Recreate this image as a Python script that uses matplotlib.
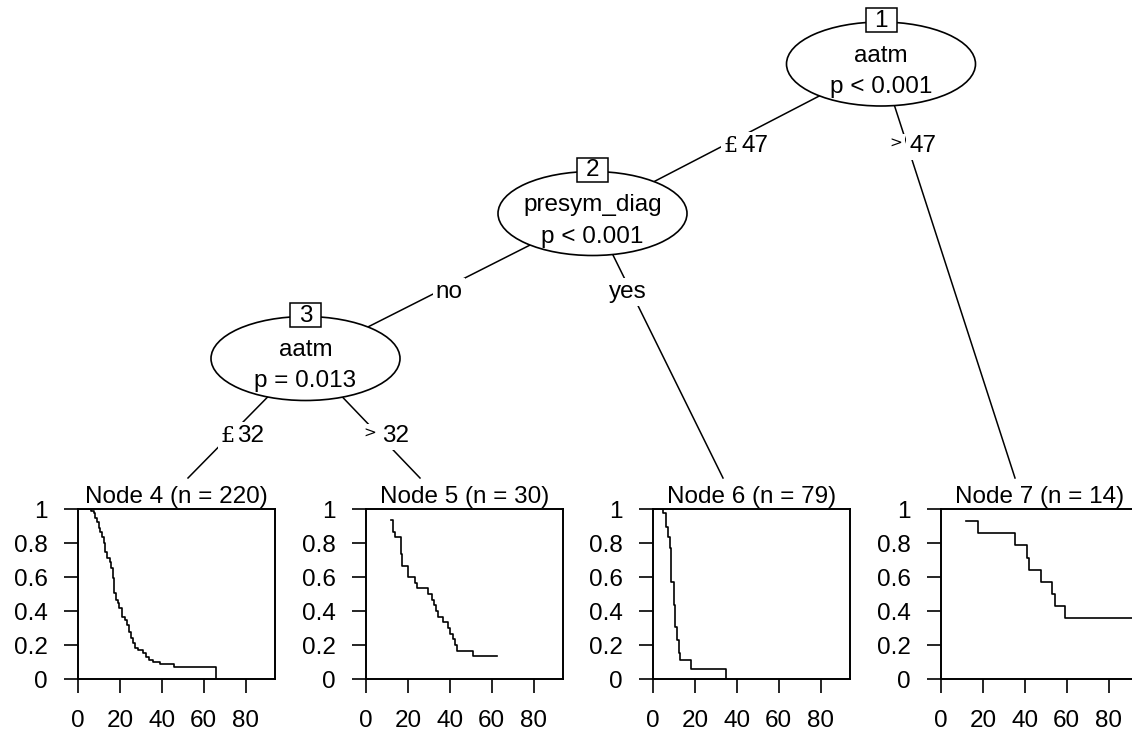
import matplotlib
matplotlib.use("Agg")
import matplotlib.pyplot as plt
import matplotlib.patches as patches

plt.rcParams['font.family'] = ['Liberation Sans', 'DejaVu Sans']

W, H = 1132, 740

# survival curves of the terminal nodes (time, survival after step)
node4_time = [0, 6.3, 7.5, 8.3, 9.0, 9.8, 10.6, 11.4, 12.2, 13.0, 13.8, 15.1, 15.9, 16.5, 17.1,
              18.3, 19.0, 19.8, 21.0, 22.2, 23.3, 24.1, 25.1, 26.2, 27.3, 28.6, 31.0, 32.5, 34.1,
              35.7, 38.9, 46.0, 65.9]
node4_surv = [1, 0.988, 0.975, 0.945, 0.925, 0.886, 0.867, 0.837, 0.798, 0.749, 0.714, 0.690,
              0.651, 0.592, 0.504, 0.465, 0.445, 0.416, 0.367, 0.347, 0.318, 0.278, 0.239, 0.210,
              0.180, 0.171, 0.151, 0.131, 0.112, 0.102, 0.088, 0.069, 0.0]

node5_time = [11.9, 12.7, 13.8, 16.5, 17.4, 20.2, 23.3, 24.1, 29.4, 31.3, 32.4, 33.3, 34.4, 36.8,
              39.2, 40.0, 41.6, 42.7, 43.6, 51.1, 62.5]
node5_surv = [0.933, 0.867, 0.833, 0.733, 0.667, 0.6, 0.567, 0.533, 0.5, 0.467, 0.433, 0.4, 0.367,
              0.333, 0.3, 0.267, 0.233, 0.2, 0.167, 0.133, 0.133]

node6_time = [0, 4.8, 6.0, 7.1, 7.9, 8.7, 9.8, 10.6, 11.4, 12.2, 13.0, 17.9, 34.6]
node6_surv = [1, 0.975, 0.896, 0.837, 0.769, 0.571, 0.435, 0.308, 0.229, 0.151, 0.112, 0.057, 0.0]

node7_time = [12.0, 17.6, 35.1, 41.0, 42.1, 47.8, 52.9, 54.5, 59.3, 100]
node7_surv = [0.929, 0.857, 0.786, 0.714, 0.643, 0.571, 0.5, 0.429, 0.357, 0.357]

terminal_ids = [4, 5, 6, 7]
terminal_n = [220, 30, 79, 14]
curves = [(node4_time, node4_surv), (node5_time, node5_surv),
          (node6_time, node6_surv), (node7_time, node7_surv)]

# inner nodes: id, variable, p-value text
inner_ids = [1, 2, 3]
inner_vars = ['aatm', 'presym_diag', 'aatm']
inner_pvals = ['p < 0.001', 'p < 0.001', 'p = 0.013']

yticks = [0, 0.2, 0.4, 0.6, 0.8, 1]
ytick_labels = ['0', '0.2', '0.4', '0.6', '0.8', '1']
xticks = [0, 20, 40, 60, 80]

# layout (pixels)
inner_pos = {1: (881, 64), 2: (592.5, 213.5), 3: (305.5, 358.5)}
leaf_top = {4: (188, 478), 5: (420, 478), 6: (723, 478), 7: (1015, 478)}
edges = [(1, 2, inner_pos), (1, 7, leaf_top), (2, 3, inner_pos), (2, 6, leaf_top),
         (3, 4, leaf_top), (3, 5, leaf_top)]
panel_left = [78, 366, 653, 941]
panel_w, panel_top, panel_bot = 197, 509, 679

fig = plt.figure(figsize=(W / 100, H / 100), dpi=100)
tree = fig.add_axes([0, 0, 1, 1])
tree.set_xlim(0, W)
tree.set_ylim(H, 0)
tree.axis('off')

fs = 17.5

# edges
for a, b, where in edges:
    x0, y0 = inner_pos[a]
    x1, y1 = where[b]
    tree.plot([x0, x1], [y0, y1], color='black', lw=1.1, zorder=1)

# inner nodes
for nid, var, pv in zip(inner_ids, inner_vars, inner_pvals):
    cx, cy = inner_pos[nid]
    tree.add_patch(patches.Ellipse((cx, cy), 189, 84, facecolor='white', edgecolor='black',
                                   lw=1.2, zorder=2))
    tree.text(cx, cy - 2, var, ha='center', va='baseline', fontsize=fs, zorder=3)
    tree.text(cx, cy + 29, pv, ha='center', va='baseline', fontsize=fs, zorder=3)
    tree.add_patch(patches.Rectangle((cx - 15.5, cy - 56), 31, 24, facecolor='white',
                                     edgecolor='black', lw=1.1, zorder=3))
    tree.text(cx, cy - 43, str(nid), ha='center', va='center', fontsize=fs, zorder=4)

# edge labels: (symbol, number, symbol x, number x, baseline y)
sym_font = dict(family='DejaVu Serif')
box = dict(facecolor='white', edgecolor='none', pad=2)
edge_labels = [('\u00a3', '47', 730.5, 742, 152), ('>', '47', 895.5, 909, 152),
               ('\u00a3', '32', 227.5, 237, 442), ('>', '32', 369.5, 382, 442)]
for sym, num, xs, xn, yb in edge_labels:
    if sym == '>':
        tree.text(xs, yb - 8, sym, ha='center', va='center', fontsize=11, bbox=box,
                  zorder=3, **sym_font)
    else:
        tree.text(xs, yb, sym, ha='center', va='baseline', fontsize=16, bbox=box,
                  zorder=3, **sym_font)
    tree.text(xn, yb, num, ha='left', va='baseline', fontsize=fs, bbox=box, zorder=3)
tree.text(449, 298, 'no', ha='center', va='baseline', fontsize=fs, bbox=box, zorder=3)
tree.text(628, 298, 'yes', ha='center', va='baseline', fontsize=fs, bbox=box, zorder=3)

# terminal panels
for left, nid, n, (t, s) in zip(panel_left, terminal_ids, terminal_n, curves):
    ax = fig.add_axes([left / W, 1 - panel_bot / H, panel_w / W, (panel_bot - panel_top) / H])
    ax.step(t, s, where='post', color='black', lw=1.2)
    ax.set_xlim(0, 94)
    ax.set_ylim(0, 1)
    ax.set_xticks(xticks)
    ax.set_yticks(yticks)
    ax.set_yticklabels(ytick_labels)
    ax.tick_params(axis='both', direction='out', length=10, width=1.2, labelsize=fs)
    ax.tick_params(axis='y', pad=12)
    ax.tick_params(axis='x', pad=12)
    for sp in ax.spines.values():
        sp.set_linewidth(1.4)
    tree.text(left + panel_w / 2, 503, 'Node %d (n = %d)' % (nid, n), ha='center',
              va='baseline', fontsize=fs)

fig.savefig('out.png', dpi=100)
